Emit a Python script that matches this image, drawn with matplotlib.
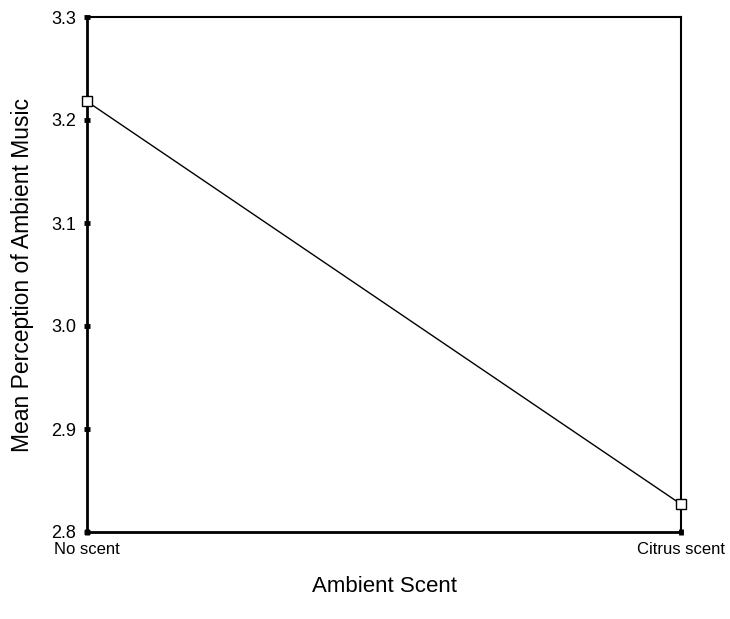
import matplotlib
matplotlib.use("Agg")
import matplotlib.pyplot as plt

# Data
categories = ["No scent", "Citrus scent"]
mean_music = [3.218, 2.827]
y_ticks = [2.8, 2.9, 3.0, 3.1, 3.2, 3.3]

plt.rcParams["font.family"] = ["Liberation Sans", "DejaVu Sans"]

fig = plt.figure(figsize=(7.30, 6.19), dpi=100)
ax = fig.add_axes([87 / 730, 1 - 532 / 619, (681 - 87) / 730, (532 - 17) / 619])

x = list(range(len(categories)))
ax.plot(x, mean_music, color="black", linewidth=1.0, marker="s",
        markersize=7.5, markerfacecolor="white", markeredgecolor="black",
        markeredgewidth=1.0, clip_on=False, zorder=3)

ax.set_xlim(0, len(categories) - 1)
ax.set_ylim(2.8, 3.3)
ax.set_xticks(x)
ax.set_xticklabels(categories, fontsize=12)
ax.set_yticks(y_ticks)
ax.set_yticklabels([f"{v:.1f}" for v in y_ticks], fontsize=13)

ax.tick_params(axis="both", direction="inout", length=4, width=3.5, color="black")
ax.tick_params(axis="y", pad=6)
ax.tick_params(axis="x", pad=5)

for side in ["left", "bottom"]:
    ax.spines[side].set_linewidth(2.0)
for side in ["top", "right"]:
    ax.spines[side].set_linewidth(1.5)

ax.set_xlabel("Ambient Scent", fontsize=16, labelpad=14)
ax.set_ylabel("Mean Perception of Ambient Music", fontsize=16.5, labelpad=12)

fig.savefig("out.png", dpi=100)
